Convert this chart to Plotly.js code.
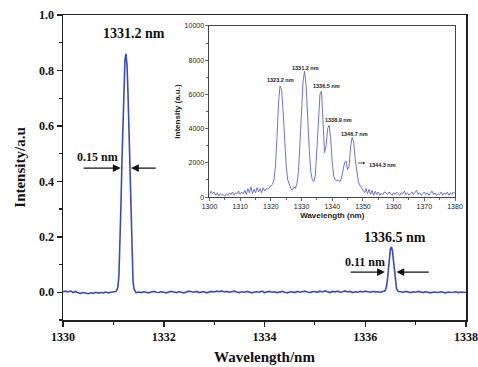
<!DOCTYPE html>
<html>
<head>
<meta charset="utf-8">
<script src="https://cdn.plot.ly/plotly-3.0.1.min.js"></script>
<style>html,body{margin:0;padding:0;background:#fff;}#chart{width:478px;height:367px;}</style>
</head>
<body>
<div id="chart"></div>
<script>
// ---- Main spectrum (normalized intensity), segments: [start wavelength, step, values]
var segAStart = 1330.00, segAStep = 0.05;
var segAVals = [0.002,0.004,0.001,0.005,-0.001,0.003,-0.002,-0.004,-0.001,-0.003,-0.005,-0.002,-0.004,0.000,-0.003,-0.001,-0.002,0.001,-0.002,0.000,0.001,0.003];
var peak1Start = 1331.07, peak1Step = 0.02;
var peak1Vals = [0.008,0.02,0.06,0.16,0.31,0.47,0.63,0.76,0.84,0.86,0.82,0.72,0.57,0.40,0.24,0.11,0.04,0.012,0.004];
var segBStart = 1331.45, segBStep = 0.05;
var segBVals = [-0.002,0.001,-0.001,0.002,0.000,-0.002,0.001,0.003,0.000,-0.001,
0.002,0.000,-0.002,0.001,0.003,0.001,-0.001,0.002,0.000,-0.002,
0.001,0.004,0.002,0.000,0.003,-0.001,0.001,0.002,-0.002,0.000,
0.003,0.001,0.004,0.002,0.005,0.001,0.003,0.000,0.002,0.004,
0.001,-0.001,0.002,0.000,0.003,0.001,-0.002,0.001,0.002,0.000,
0.004,-0.001,0.001,0.003,0.000,0.002,-0.001,0.001,0.003,0.000,
-0.002,0.001,0.002,-0.001,0.003,0.000,0.002,0.004,0.001,-0.001,
0.002,0.003,0.000,0.004,0.001,0.005,0.002,-0.001,0.003,0.001,
0.004,0.000,0.002,0.005,0.001,0.003,-0.001,0.002,0.000,0.003,
0.001,0.004,0.002,0.000,0.003,0.001,0.002,0.000,0.003];
var peak2Start = 1336.38, peak2Step = 0.02;
var peak2Vals = [0.004,0.008,0.02,0.045,0.09,0.135,0.158,0.163,0.15,0.115,0.07,0.035,0.014,0.006,0.003];
var segCStart = 1336.70, segCStep = 0.05;
var segCVals = [0.002,0.000,0.003,0.001,-0.001,0.002,0.000,0.003,0.001,-0.001,0.002,0.000,-0.002,0.001,0.000,-0.001,0.002,0.000,-0.002,0.001,-0.001,0.000,0.002,-0.001,0.001,0.000,-0.001];

// ---- Inset spectrum (a.u.), 1300 to 1380 nm every 0.5 nm
var insetStart = 1300, insetStep = 0.5;
var insetVals = [
100,350,200,300,100,250,50,200,100,150,
50,200,100,250,150,300,100,250,200,350,
150,300,200,400,150,500,250,600,200,450,
250,550,300,500,250,550,350,500,450,550,
600,750,1000,1800,3500,5500,6500,6300,5000,3200,
1800,1000,700,500,400,600,500,800,1500,3000,
5000,6800,7350,6500,4500,2800,1500,1000,900,1300,
2800,4800,6000,6200,4500,2600,3000,4000,4200,3400,
2000,1200,1000,950,1000,900,1100,1500,2000,2100,
1600,1800,3000,3500,3200,2200,1400,900,700,500,
400,250,500,200,450,150,400,100,350,150,
300,100,200,150,300,250,150,300,200,100,
250,150,300,200,100,250,200,350,150,250,
100,200,300,150,250,400,150,250,100,200,
300,150,250,100,200,350,150,250,100,200,
150,300,100,250,150,300,100,250,150,300,
200];

// ---- Labels
var mainPeakLabels = ['1331.2 nm', '1336.5 nm'];
var widthLabels = ['0.15 nm', '0.11 nm'];
var insetPeakLabels = ['1323.2 nm', '1331.2 nm', '1336.5 nm', '1338.9 nm', '1346.7 nm', '1344.3 nm'];

function seg(start, step, vals) {
  var xs = [];
  for (var i = 0; i < vals.length; i++) xs.push(+(start + i * step).toFixed(3));
  return xs;
}
var mainX = [].concat(seg(segAStart, segAStep, segAVals), seg(peak1Start, peak1Step, peak1Vals),
  seg(segBStart, segBStep, segBVals), seg(peak2Start, peak2Step, peak2Vals), seg(segCStart, segCStep, segCVals));
var mainY = [].concat(segAVals, peak1Vals, segBVals, peak2Vals, segCVals);
var insetX = seg(insetStart, insetStep, insetVals);

var serif = 'Liberation Serif, Times New Roman, serif';
var sans = 'Liberation Sans, Arial, sans-serif';

var traces = [
  {x: mainX, y: mainY, type: 'scatter', mode: 'lines', line: {color: '#3a4db5', width: 1.6}, xaxis: 'x', yaxis: 'y', hoverinfo: 'skip'},
  {x: insetX, y: insetVals, type: 'scatter', mode: 'lines', line: {color: '#6f74cf', width: 1}, xaxis: 'x2', yaxis: 'y2', hoverinfo: 'skip'}
];

var bigFont = {family: serif, size: 14, color: '#111', weight: 'bold'};
var midFont = {family: serif, size: 12, color: '#111', weight: 'bold'};
var tinyFont = {family: sans, size: 5.5, color: '#222', weight: 'bold'};

function arrow(x0, y0, x1, y1) {
  return {x: x1, y: y1, ax: x0, ay: y0, xref: 'x', yref: 'y', axref: 'x', ayref: 'y',
    showarrow: true, arrowhead: 2, arrowsize: 1.2, arrowwidth: 1.3, arrowcolor: '#111', text: ''};
}

var annotations = [
  {x: 1331.41, y: 0.934, xref: 'x', yref: 'y', text: mainPeakLabels[0], showarrow: false, font: bigFont},
  {x: 1336.59, y: 0.198, xref: 'x', yref: 'y', text: mainPeakLabels[1], showarrow: false, font: bigFont},
  {x: 1330.69, y: 0.487, xref: 'x', yref: 'y', text: widthLabels[0], showarrow: false, font: midFont},
  {x: 1336.0, y: 0.109, xref: 'x', yref: 'y', text: widthLabels[1], showarrow: false, font: midFont},
  arrow(1330.38, 0.448, 1331.145, 0.448),
  arrow(1331.87, 0.448, 1331.35, 0.448),
  arrow(1335.68, 0.073, 1336.39, 0.073),
  arrow(1337.29, 0.073, 1336.62, 0.073),
  {x: 1323.2, y: 6840, xref: 'x2', yref: 'y2', text: insetPeakLabels[0], showarrow: false, font: tinyFont},
  {x: 1331.4, y: 7540, xref: 'x2', yref: 'y2', text: insetPeakLabels[1], showarrow: false, font: tinyFont},
  {x: 1338.2, y: 6490, xref: 'x2', yref: 'y2', text: insetPeakLabels[2], showarrow: false, font: tinyFont},
  {x: 1341.9, y: 4500, xref: 'x2', yref: 'y2', text: insetPeakLabels[3], showarrow: false, font: tinyFont},
  {x: 1347.4, y: 3680, xref: 'x2', yref: 'y2', text: insetPeakLabels[4], showarrow: false, font: tinyFont},
  {x: 1356.5, y: 1870, xref: 'x2', yref: 'y2', text: insetPeakLabels[5], showarrow: false, font: tinyFont},
  {x: 1350.8, y: 1990, ax: 1347.9, ay: 1990, xref: 'x2', yref: 'y2', axref: 'x2', ayref: 'y2',
    showarrow: true, arrowhead: 2, arrowsize: 0.6, arrowwidth: 0.8, arrowcolor: '#222', text: ''}
];

var layout = {
  width: 478, height: 367,
  margin: {l: 63, r: 12, t: 15, b: 47},
  paper_bgcolor: '#fff', plot_bgcolor: '#fff',
  showlegend: false,
  xaxis: {
    domain: [0, 1], range: [1330, 1338], tick0: 1330, dtick: 2,
    ticks: 'outside', ticklen: 5, tickwidth: 1.5, tickcolor: '#222',
    minor: {dtick: 1, ticks: 'outside', ticklen: 3, tickwidth: 1.2, tickcolor: '#222', showgrid: false},
    showline: true, linewidth: 1.5, linecolor: '#222', mirror: true,
    showgrid: false, zeroline: false,
    tickfont: {family: serif, size: 12, color: '#111', weight: 'bold'},
    title: {text: 'Wavelength/nm', font: {family: serif, size: 15, color: '#111', weight: 'bold'}, standoff: 8}
  },
  yaxis: {
    domain: [0, 1], range: [-0.1, 1.0], tick0: 0, dtick: 0.2, tickformat: '.1f',
    ticks: 'outside', ticklen: 5, tickwidth: 1.5, tickcolor: '#222',
    minor: {dtick: 0.1, ticks: 'outside', ticklen: 3, tickwidth: 1.2, tickcolor: '#222', showgrid: false},
    showline: true, linewidth: 1.5, linecolor: '#222', mirror: true,
    showgrid: false, zeroline: false,
    tickfont: {family: serif, size: 12, color: '#111', weight: 'bold'},
    title: {text: 'Intensity/a.u', font: {family: serif, size: 15, color: '#111', weight: 'bold'}, standoff: 10}
  },
  xaxis2: {
    domain: [0.3635, 0.9727], anchor: 'y2', range: [1300, 1380], tick0: 1300, dtick: 10,
    ticks: 'outside', ticklen: 3, tickwidth: 0.8, tickcolor: '#444',
    minor: {dtick: 5, ticks: 'outside', ticklen: 2, tickwidth: 0.8, tickcolor: '#444', showgrid: false},
    showline: true, linewidth: 1, linecolor: '#444', mirror: true,
    showgrid: false, zeroline: false,
    tickfont: {family: sans, size: 7, color: '#222'},
    title: {text: 'Wavelength (nm)', font: {family: sans, size: 8, color: '#222', weight: 'bold'}, standoff: 2}
  },
  yaxis2: {
    domain: [0.403, 0.964], anchor: 'x2', range: [0, 10000], tick0: 0, dtick: 2000, tickformat: 'd',
    ticks: 'outside', ticklen: 3, tickwidth: 0.8, tickcolor: '#444',
    minor: {dtick: 1000, ticks: 'outside', ticklen: 2, tickwidth: 0.8, tickcolor: '#444', showgrid: false},
    showline: true, linewidth: 1, linecolor: '#444', mirror: true,
    showgrid: false, zeroline: false,
    tickfont: {family: sans, size: 7, color: '#222'},
    title: {text: 'Intensity (a.u.)', font: {family: sans, size: 8, color: '#222', weight: 'bold'}, standoff: 2}
  },
  annotations: annotations
};

Plotly.newPlot('chart', traces, layout, {staticPlot: true, displayModeBar: false});
</script>
</body>
</html>
